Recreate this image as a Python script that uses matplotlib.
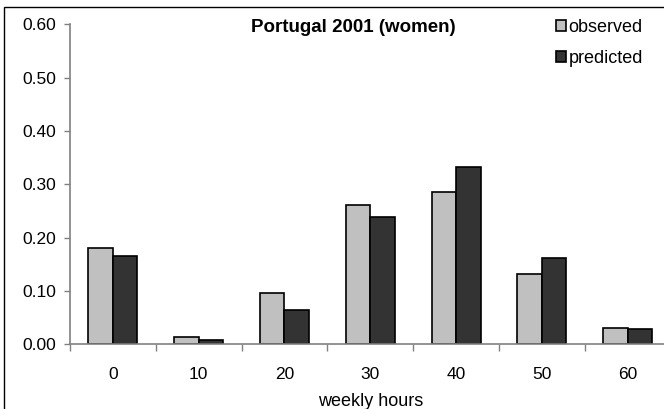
import numpy as np
import matplotlib
matplotlib.use("Agg")
import matplotlib.pyplot as plt
from matplotlib.patches import Rectangle

# --- data ---
hours = ["0", "10", "20", "30", "40", "50", "60"]
observed = [0.180, 0.014, 0.096, 0.262, 0.285, 0.132, 0.031]
predicted = [0.166, 0.008, 0.065, 0.239, 0.332, 0.161, 0.029]
yticks = [0.0, 0.1, 0.2, 0.3, 0.4, 0.5, 0.6]

plt.rcParams["font.family"] = ["Liberation Sans", "DejaVu Sans"]

fig = plt.figure(figsize=(6.64, 4.09), dpi=100)
ax = fig.add_axes([70 / 664, 0.158, 0.9045, 0.9406 - 0.158])

x = np.arange(len(hours))
w = 0.286
ax.bar(x - w / 2, observed, w, color="#c0c0c0", edgecolor="black",
       linewidth=1.2, label="observed")
ax.bar(x + w / 2, predicted, w, color="#333333", edgecolor="black",
       linewidth=1.2, label="predicted")

ax.set_xlim(-0.5, len(hours) - 0.5)
ax.set_ylim(0, 0.6)
ax.set_yticks(yticks)
ax.set_yticklabels([f"{v:.2f}" for v in yticks], fontsize=12.5)

# category labels in the middle, tick marks between groups
ax.set_xticks(x)
ax.set_xticklabels(hours, fontsize=12.5)
ax.tick_params(axis="x", length=0, pad=16)
ax.set_xticks(np.arange(len(hours) + 1) - 0.5, minor=True)
ax.tick_params(axis="x", which="minor", length=5, color="#808080", width=1)
ax.tick_params(axis="y", length=4, color="#808080", width=1, pad=6)

for side in ["top", "right"]:
    ax.spines[side].set_visible(False)
for side in ["left", "bottom"]:
    ax.spines[side].set_color("#808080")
    ax.spines[side].set_linewidth(1.2)

ax.set_xlabel("weekly hours", fontsize=13, labelpad=8)

fig.text(353 / 664, 1 - 28 / 409, "Portugal 2001 (women)", fontsize=13.5,
         fontweight="bold", ha="center", va="center")

ax.legend(loc="upper left", bbox_to_anchor=(556 / 664, 1 - 19 / 409),
          bbox_transform=fig.transFigure, frameon=False, fontsize=13,
          handlelength=0.55, handleheight=0.55, handletextpad=0.15,
          labelspacing=0.75, borderpad=0, borderaxespad=0)

# outer frame (cut off at right and bottom)
fig.patches.append(Rectangle((4 / 664, -0.1), 1.2, 1 - 7 / 409 + 0.1,
                             transform=fig.transFigure, fill=False,
                             edgecolor="black", linewidth=1.0))

fig.savefig("out.png", dpi=100)
